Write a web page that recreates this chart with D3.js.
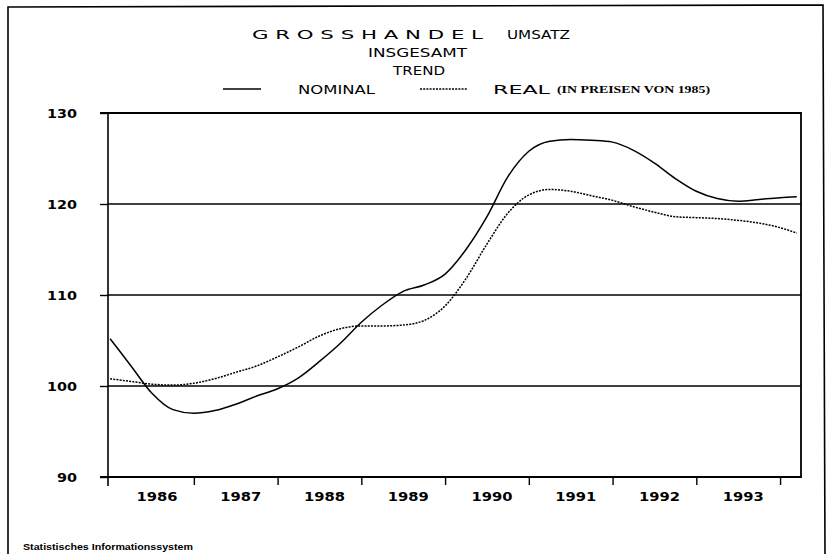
<!DOCTYPE html>
<html>
<head>
<meta charset="utf-8">
<script src="https://cdn.jsdelivr.net/npm/d3@7"></script>
<style>
  body { margin: 0; background: #fff; }
  svg { display: block; }
</style>
</head>
<body>
<svg id="chartSVG" width="831" height="554"></svg>
<script>
/**
 * Data (quarterly trend values)
 */
const times = [1986.0, 1986.25, 1986.5, 1986.75, 1987.0, 1987.25, 1987.5, 1987.75,
  1988.0, 1988.25, 1988.5, 1988.75, 1989.0, 1989.25, 1989.5, 1989.75,
  1990.0, 1990.25, 1990.5, 1990.75, 1991.0, 1991.25, 1991.5, 1991.75,
  1992.0, 1992.25, 1992.5, 1992.75, 1993.0, 1993.25, 1993.5, 1993.75,
  1994.0, 1994.2];
const nominal = [105.2, 102.2, 99.2, 97.4, 97.0, 97.3, 98.0, 98.9,
  99.7, 100.9, 102.7, 104.7, 107.0, 108.9, 110.4, 111.1,
  112.3, 115.0, 118.6, 123.0, 125.8, 126.9, 127.1, 127.0,
  126.8, 125.9, 124.5, 122.8, 121.4, 120.6, 120.3, 120.5,
  120.7, 120.8];
const real = [100.8, 100.5, 100.2, 100.1, 100.3, 100.8, 101.5, 102.2,
  103.2, 104.3, 105.5, 106.3, 106.6, 106.6, 106.7, 107.2,
  108.8, 111.8, 115.6, 119.0, 121.0, 121.6, 121.4, 120.9,
  120.4, 119.7, 119.1, 118.6, 118.5, 118.4, 118.2, 117.9,
  117.4, 116.8];
const years = [1986, 1987, 1988, 1989, 1990, 1991, 1992, 1993];
const yTicks = [90, 100, 110, 120, 130];
const gridValues = [100, 110, 120];

/**
 * Plot box
 */
const box = { left: 108, top: 113, right: 801, bottom: 477 };
const labelFont = "'DejaVu Sans', sans-serif";

const svg = d3.select("#chartSVG");

const x = d3.scaleLinear()
  .domain([1985.975, 1994.25])
  .range([box.left, box.right]);
const y = d3.scaleLinear()
  .domain([90, 130])
  .range([box.bottom, box.top]);

// outer frame (left, top, right only)
svg.append("path")
  .attr("d", "M8,554 L8,7 L823,5 L825,554")
  .attr("fill", "none")
  .attr("stroke", "#000")
  .attr("stroke-width", 1.6);

// titles
function addText(txt, x0, yb, len, size, family, weight) {
  svg.append("text")
    .attr("x", x0)
    .attr("y", yb)
    .attr("font-family", family || labelFont)
    .attr("font-size", size)
    .attr("font-weight", weight || "normal")
    .attr("textLength", len)
    .attr("lengthAdjust", "spacingAndGlyphs")
    .text(txt);
}
addText("G R O S S H A N D E L", 252, 39, 231, 12.5);
addText("UMSATZ", 507, 39, 63, 12.5);
addText("INSGESAMT", 368, 57, 99, 12.5);
addText("TREND", 393, 75, 52, 12.5);
addText("NOMINAL", 298, 94, 77, 12.5);
addText("REAL", 493, 94, 57, 12.5);
addText("(IN PREISEN VON 1985)", 557, 93, 153, 9.5, "'Liberation Serif', serif", "bold");
addText("Statistisches Informationssystem", 23, 550, 170, 8.5, "'Liberation Sans', sans-serif", "bold");

// legend samples
svg.append("line")
  .attr("x1", 223).attr("x2", 261).attr("y1", 89).attr("y2", 89)
  .attr("stroke", "#000").attr("stroke-width", 1.4);
svg.append("line")
  .attr("x1", 420).attr("x2", 468).attr("y1", 89).attr("y2", 89)
  .attr("stroke", "#000").attr("stroke-width", 1.5)
  .attr("stroke-dasharray", "2,1.2");

// grid lines
svg.append("g")
  .selectAll("line")
  .data(gridValues)
  .join("line")
  .attr("x1", box.left)
  .attr("x2", box.right)
  .attr("y1", d => y(d))
  .attr("y2", d => y(d))
  .attr("stroke", "#000")
  .attr("stroke-width", 1.4);

// y axis
const yAxis = d3.axisLeft(y).tickValues(yTicks).tickSize(8).tickPadding(23);
const yGroup = svg.append("g")
  .attr("transform", `translate(${box.left},0)`)
  .call(yAxis);
yGroup.select(".domain").remove();
yGroup.selectAll(".tick line").attr("stroke-width", 1.4);
yGroup.selectAll(".tick text")
  .attr("font-family", labelFont)
  .attr("font-size", 13)
  .attr("font-weight", "bold")
  .attr("fill", "#000")
  .attr("textLength", 30)
  .attr("lengthAdjust", "spacingAndGlyphs");
yGroup.selectAll(".tick text").filter(d => d < 100).attr("textLength", 20);

// x axis ticks at year boundaries
const xAxis = d3.axisBottom(x).tickValues(d3.range(1987, 1995)).tickSize(8).tickFormat("");
const xGroup = svg.append("g")
  .attr("transform", `translate(0,${box.bottom})`)
  .call(xAxis);
xGroup.select(".domain").remove();
xGroup.selectAll(".tick line").attr("stroke-width", 1.4);

// year labels centred in each year
svg.append("g")
  .selectAll("text")
  .data(years)
  .join("text")
  .attr("x", d => x(d + 0.5) + 5)
  .attr("y", box.bottom + 24)
  .attr("text-anchor", "middle")
  .attr("font-family", labelFont)
  .attr("font-size", 13)
  .attr("font-weight", "bold")
  .attr("textLength", 41)
  .attr("lengthAdjust", "spacingAndGlyphs")
  .text(d => d);

// plot box
svg.append("path")
  .attr("d", `M${box.left - 8},${box.top} L${box.right},${box.top} L${box.right},${box.bottom} L${box.left - 8},${box.bottom}`)
  .attr("fill", "none")
  .attr("stroke", "#000")
  .attr("stroke-width", 1.8);
svg.append("line")
  .attr("x1", box.left).attr("x2", box.left)
  .attr("y1", box.top).attr("y2", box.bottom + 9)
  .attr("stroke", "#000").attr("stroke-width", 1.6);

// series
const line = d3.line()
  .x((d, i) => x(times[i]))
  .y(d => y(d))
  .curve(d3.curveMonotoneX);

svg.append("path")
  .datum(nominal)
  .attr("d", line)
  .attr("fill", "none")
  .attr("stroke", "#000")
  .attr("stroke-width", 1.5);

svg.append("path")
  .datum(real)
  .attr("d", line)
  .attr("fill", "none")
  .attr("stroke", "#000")
  .attr("stroke-width", 1.5)
  .attr("stroke-dasharray", "2,1.2");
</script>
</body>
</html>
